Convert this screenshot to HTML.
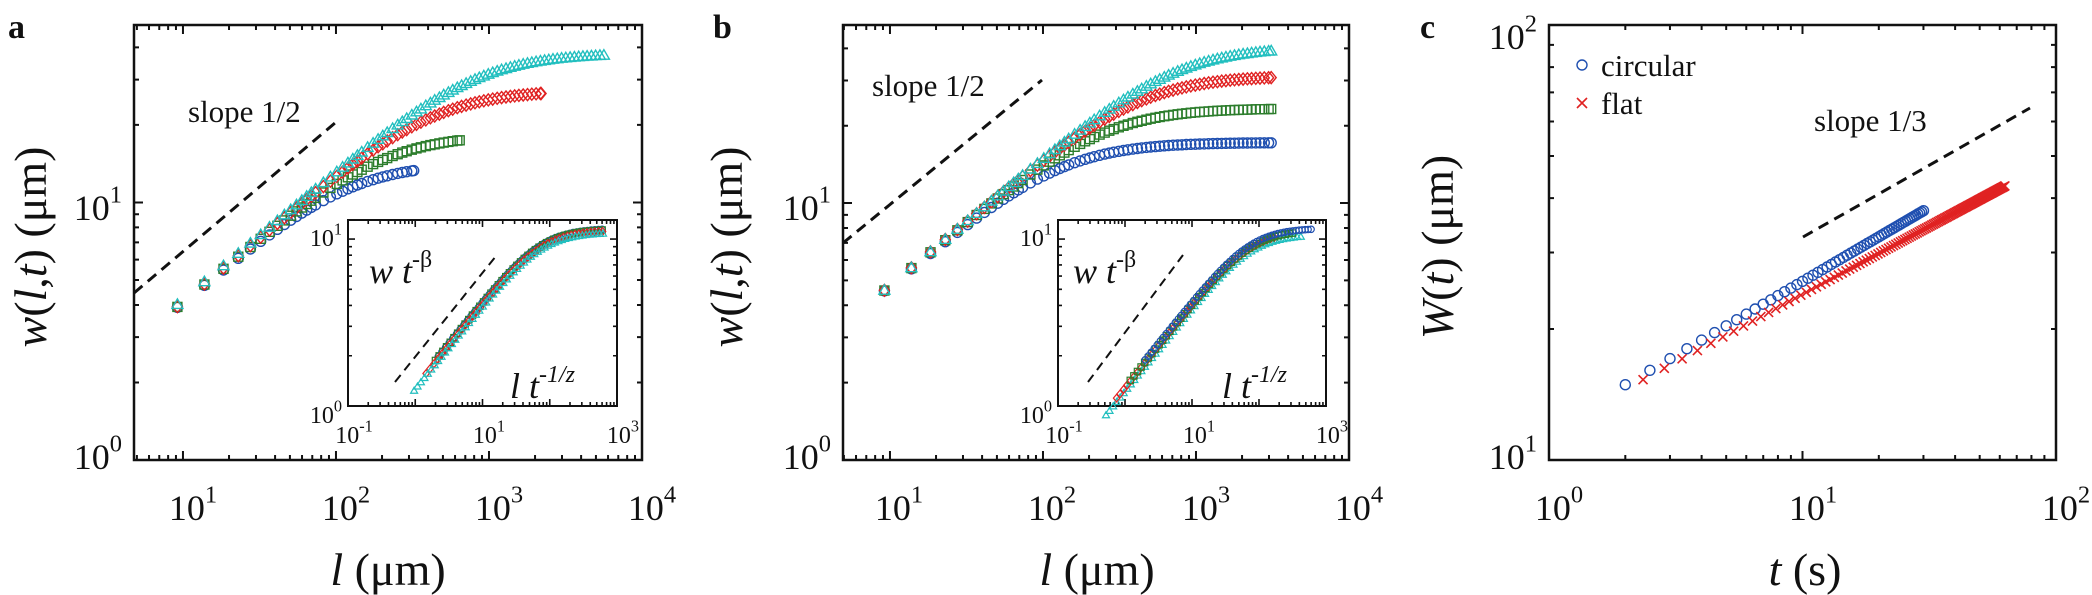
<!DOCTYPE html>
<html><head><meta charset="utf-8"><style>
html,body{margin:0;padding:0;background:#fff;}
svg{display:block;}
text{font-family:"Liberation Serif",serif;fill:#111;}
</style></head><body>
<svg id="s" width="2092" height="595" viewBox="0 0 2092 595" xmlns="http://www.w3.org/2000/svg"></svg>
<script>
var out=[];
function L(v){return Math.log10(v);}
function mk(p){return {x:function(v){return p.x0+(L(v)-p.xlo)/(p.xhi-p.xlo)*(p.x1-p.x0);},y:function(v){return p.y1-(L(v)-p.ylo)/(p.yhi-p.ylo)*(p.y1-p.y0);},p:p};}
function frame(P,maj,mn,sw,bg){var p=P.p;
 if(bg)out.push('<rect x="'+p.x0+'" y="'+p.y0+'" width="'+(p.x1-p.x0)+'" height="'+(p.y1-p.y0)+'" fill="#fff"/>');
 var t='';
 for(var d=Math.floor(p.xlo);d<=Math.ceil(p.xhi);d++)for(var k=1;k<10;k++){var v=k*Math.pow(10,d);var lv=L(v);if(lv<p.xlo-1e-6||lv>p.xhi+1e-6)continue;var x=P.x(v);var len=k==1?maj:mn;t+='M'+x+' '+p.y1+'v'+(-len)+'M'+x+' '+p.y0+'v'+len;}
 for(var d=Math.floor(p.ylo);d<=Math.ceil(p.yhi);d++)for(var k=1;k<10;k++){var v=k*Math.pow(10,d);var lv=L(v);if(lv<p.ylo-1e-6||lv>p.yhi+1e-6)continue;var y=P.y(v);var len=k==1?maj:mn;t+='M'+p.x0+' '+y+'h'+len+'M'+p.x1+' '+y+'h'+(-len);}
 out.push('<path d="'+t+'" stroke="#111" stroke-width="'+(sw*0.8)+'" fill="none"/>');
 out.push('<rect x="'+p.x0+'" y="'+p.y0+'" width="'+(p.x1-p.x0)+'" height="'+(p.y1-p.y0)+'" fill="none" stroke="#111" stroke-width="'+sw+'"/>');
}
function marker(t,x,y,r,c,sw){
 if(t=='o')return '<circle cx="'+x.toFixed(1)+'" cy="'+y.toFixed(1)+'" r="'+r+'" fill="none" stroke="'+c+'" stroke-width="'+sw+'"/>';
 if(t=='s')return '<rect x="'+(x-r).toFixed(1)+'" y="'+(y-r).toFixed(1)+'" width="'+2*r+'" height="'+2*r+'" fill="none" stroke="'+c+'" stroke-width="'+sw+'"/>';
 if(t=='d')return '<path d="M'+x.toFixed(1)+' '+(y-r*1.2).toFixed(1)+'l'+r+' '+r*1.2+'l'+(-r)+' '+r*1.2+'l'+(-r)+' '+(-r*1.2)+'z" fill="none" stroke="'+c+'" stroke-width="'+sw+'"/>';
 if(t=='t')return '<path d="M'+x.toFixed(1)+' '+(y-r*1.1).toFixed(1)+'l'+r*1.1+' '+r*1.9+'h'+(-r*2.2)+'z" fill="none" stroke="'+c+'" stroke-width="'+sw+'"/>';
 if(t=='x')return '<path d="M'+(x-r)+' '+(y-r)+'l'+2*r+' '+2*r+'M'+(x-r)+' '+(y+r)+'l'+2*r+' '+(-2*r)+'" stroke="'+c+'" stroke-width="'+sw+'"/>';
}
function lab(x,y,e,fs,anc){out.push('<text x="'+x+'" y="'+y+'" font-size="'+fs+'" text-anchor="'+anc+'">10<tspan dy="'+(-fs*0.48)+'" font-size="'+(fs*0.68)+'">'+e+'</tspan></text>');}
var B='#1f4fb0',G='#2c7d2c',R='#e02222',C='#22bfbf';
function wf(l,Cc,lc,p){return Cc*Math.sqrt(l)/Math.pow(1+Math.pow(l/lc,p),0.5/p);}
function mainPanel(P,series,Cc){
 frame(P,9,5,2.5,false);
 series.forEach(function(s){var lastx=-99;for(var n=2;n<=s.N;n++){var l=4.6*n;var x=P.x(l);if(x-lastx<4.2&&n<s.N)continue;lastx=x;var w=wf(l,Cc,s.lc,1.5)*s.f;out.push(marker(s.m,x,P.y(w),s.m=='s'?4.5:5,s.c,1.4));}});
}
function inset(P,series){
 frame(P,7,4,2,true);
 series.forEach(function(s){for(var i=0;i<=s.n;i++){var X=Math.pow(10,L(s.a)+(L(s.b)-L(s.a))*i/s.n);var Y=1.3*Math.sqrt(X)/Math.pow(1+Math.pow(X/75,1.5),1/3)*s.f;out.push(marker(s.m,P.x(X),P.y(Y),3.2,s.c,1.2));}});
}
// Panel a
var A=mk({x0:134,x1:642,y0:25,y1:460,xlo:0.68,xhi:4,ylo:0,yhi:1.689});
mainPanel(A,[{m:'o',c:B,N:70,lc:120,f:1},{m:'s',c:G,N:140,lc:200,f:1},{m:'d',c:R,N:476,lc:440,f:1},{m:'t',c:C,N:1226,lc:820,f:1.02}],1.3);
out.push('<path d="M134 293L335 123" stroke="#111" stroke-width="3" stroke-dasharray="11,7" fill="none"/>');
out.push('<text x="188" y="122" font-size="31">slope 1/2</text>');
var IA=mk({x0:348,x1:617,y0:220,y1:406,xlo:-1,xhi:3,ylo:0,yhi:1.114});
inset(IA,[{m:'o',c:B,a:2.2,b:600,n:45,f:1.03},{m:'s',c:G,a:2,b:600,n:45,f:1.02},{m:'d',c:R,a:1.45,b:610,n:45,f:1.0},{m:'t',c:C,a:0.96,b:620,n:55,f:0.97}]);
out.push('<path d="M395 382L496 256" stroke="#111" stroke-width="2" stroke-dasharray="9,6" fill="none"/>');
// Panel b
var Bp=mk({x0:843,x1:1349,y0:25,y1:460,xlo:0.693,xhi:4,ylo:0,yhi:1.693});
mainPanel(Bp,[{m:'o',c:B,N:674,lc:130,f:1},{m:'s',c:G,N:674,lc:240,f:1},{m:'d',c:R,N:674,lc:430,f:1},{m:'t',c:C,N:674,lc:720,f:1}],1.51);
out.push('<path d="M843 243L1042 80" stroke="#111" stroke-width="3" stroke-dasharray="11,7" fill="none"/>');
out.push('<text x="872" y="96" font-size="31">slope 1/2</text>');
var IB=mk({x0:1058,x1:1326,y0:220,y1:406,xlo:-1,xhi:3,ylo:0,yhi:1.114});
inset(IB,[{m:'t',c:C,a:0.52,b:420,n:55,f:0.94},{m:'d',c:R,a:0.75,b:170,n:45,f:0.99},{m:'s',c:G,a:1.2,b:316,n:45,f:1.0},{m:'o',c:B,a:2,b:600,n:55,f:1.03}]);
out.push('<path d="M1088 382L1183 255" stroke="#111" stroke-width="2" stroke-dasharray="9,6" fill="none"/>');
// Panel c
var Cp=mk({x0:1549,x1:2056,y0:25,y1:460,xlo:0,xhi:2,ylo:1,yhi:2});
frame(Cp,9,5,2.5,false);
for(var t=2;t<=30.01;t+=0.5){out.push(marker('o',Cp.x(t),Cp.y(14.9*Math.pow(t/2,0.34)),5,B,1.4));}
for(var t=2.35;t<=63.01;t+=0.5){out.push(marker('x',Cp.x(t),Cp.y(15.3*Math.pow(t/2.35,0.312)),4.5,R,1.6));}
out.push('<path d="M1803 237L2030 108" stroke="#111" stroke-width="3" stroke-dasharray="11,7" fill="none"/>');
out.push('<text x="1814" y="131" font-size="31">slope 1/3</text>');
out.push(marker('o',1582,65,5,B,1.4));out.push('<text x="1601" y="76" font-size="31">circular</text>');
out.push(marker('x',1582,103,5,R,1.6));out.push('<text x="1601" y="114" font-size="31">flat</text>');
// tick labels
lab(122,220,'1',36,'end');lab(122,469,'0',36,'end');
[[183,'1'],[336,'2'],[489,'3'],[642,'4']].forEach(function(a){lab(a[0]+10,520,a[1],36,'middle');});
lab(831,220,'1',36,'end');lab(831,469,'0',36,'end');
[[889,'1'],[1042,'2'],[1196,'3'],[1349,'4']].forEach(function(a){lab(a[0]+10,520,a[1],36,'middle');});
lab(1537,49,'2',36,'end');lab(1537,469,'1',36,'end');
[[1549,'0'],[1803,'1'],[2056,'2']].forEach(function(a){lab(a[0]+10,520,a[1],36,'middle');});
// inset labels
lab(342,246,'1',24,'end');lab(342,423,'0',24,'end');
[[348,'-1'],[483,'1'],[617,'3']].forEach(function(a){lab(a[0]+6,443,a[1],24,'middle');});
lab(1052,246,'1',24,'end');lab(1052,423,'0',24,'end');
[[1058,'-1'],[1193,'1'],[1326,'3']].forEach(function(a){lab(a[0]+6,443,a[1],24,'middle');});
function ins(x1,y1,x2,y2){out.push('<text x="'+x1+'" y="'+y1+'" font-size="36" font-style="italic">w t<tspan dy="-16" font-size="24" font-style="normal">-β</tspan></text>');
 out.push('<text x="'+x2+'" y="'+y2+'" font-size="36" font-style="italic">l t<tspan dy="-16" font-size="24">-1/z</tspan></text>');}
ins(369,283,510,398);ins(1073,283,1222,398);
// axis labels
function yl(cx,cy,html){out.push('<text transform="translate('+cx+','+cy+') rotate(-90)" font-size="46" text-anchor="middle">'+html+'</text>');}
yl(46,247,'<tspan font-style="italic">w</tspan>(<tspan font-style="italic">l</tspan>,<tspan font-style="italic">t</tspan>)  (μm)');
yl(742,247,'<tspan font-style="italic">w</tspan>(<tspan font-style="italic">l</tspan>,<tspan font-style="italic">t</tspan>)  (μm)');
yl(1453,247,'<tspan font-style="italic">W</tspan>(<tspan font-style="italic">t</tspan>)  (μm)');
out.push('<text x="388" y="585" font-size="46" text-anchor="middle"><tspan font-style="italic">l</tspan> (μm)</text>');
out.push('<text x="1097" y="585" font-size="46" text-anchor="middle"><tspan font-style="italic">l</tspan> (μm)</text>');
out.push('<text x="1805" y="585" font-size="46" text-anchor="middle"><tspan font-style="italic">t</tspan> (s)</text>');
// panel letters
out.push('<text x="8" y="38" font-size="34" font-weight="bold">a</text>');
out.push('<text x="713" y="38" font-size="34" font-weight="bold">b</text>');
out.push('<text x="1420" y="38" font-size="34" font-weight="bold">c</text>');
document.getElementById('s').innerHTML=out.join('');
</script>
</body></html>
